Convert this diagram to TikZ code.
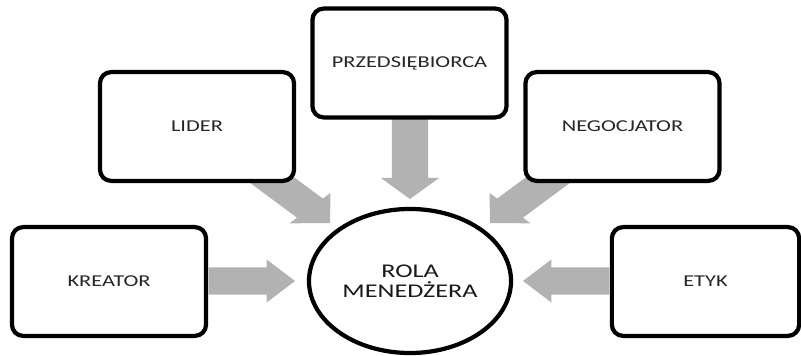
\documentclass[tikz,border=0pt]{standalone}
\usepackage{fontspec}
\newfontfamily\rolefont[FakeStretch=1.35]{Carlito}
\usetikzlibrary{shapes.geometric,calc}

% gray block arrow: tip, direction, length
\newcommand{\rolearrow}[3]{%
\begin{scope}[shift={(#1)}, xscale=1.35, rotate=#2]
\fill[color=black!30] (0,0) -- (-21,21.5) -- (-21,13.5) -- (-#3,13.5) -- (-#3,-13.5) -- (-21,-13.5) -- (-21,-21.5) -- cycle;
\end{scope}}

\tikzset{
  rolebox/.style={draw, fill=white, line width=3pt, rounded corners=0.28cm,
    minimum width=4.85cm, minimum height=2.72cm, inner sep=0pt, text=black!85, font=\rolefont\fontsize{11.8}{14}\selectfont},
  rolecircle/.style={draw, fill=white, ellipse, line width=3pt, inner sep=0pt,
    minimum width=5.05cm, minimum height=3.6cm, align=center, text=black!90, font=\rolefont\fontsize{13.8}{14.5}\selectfont}
}

\begin{document}
\begin{tikzpicture}[x=0.025cm, y=0.025cm]

\useasboundingbox (0,0) rectangle (801,355);

\node [rolecircle] (rola) at (410,74) {ROLA\\MENEDŻERA};

\coordinate (tipK) at ($(rola.center)+(-115,0)$);
\coordinate (tipE) at ($(rola.center)+(113,0)$);
\coordinate (tipP) at ($(rola.center)+(0,82)$);
\coordinate (tipL) at ($(rola.center)+(-80,58)$);
\coordinate (tipN) at ($(rola.center)+(80,58)$);

\rolearrow{tipK}{0}{64}
\rolearrow{tipE}{180}{64}
\rolearrow{tipP}{-90}{85}
\rolearrow{tipL}{-45}{70}
\rolearrow{tipN}{-135}{70}

\node [rolebox] (kreator) at (109,73.5) {KREATOR};
\node [rolebox] (lider) at (197,228.5) {LIDER};
\node [rolebox] (przeds) at (409.5,292) {PRZEDSIĘBIORCA};
\node [rolebox] (negocj) at (622.5,228.5) {NEGOCJATOR};
\node [rolebox, minimum width=4.68cm] (etyk) at (705.5,73.5) {ETYK};

\end{tikzpicture}
\end{document}
